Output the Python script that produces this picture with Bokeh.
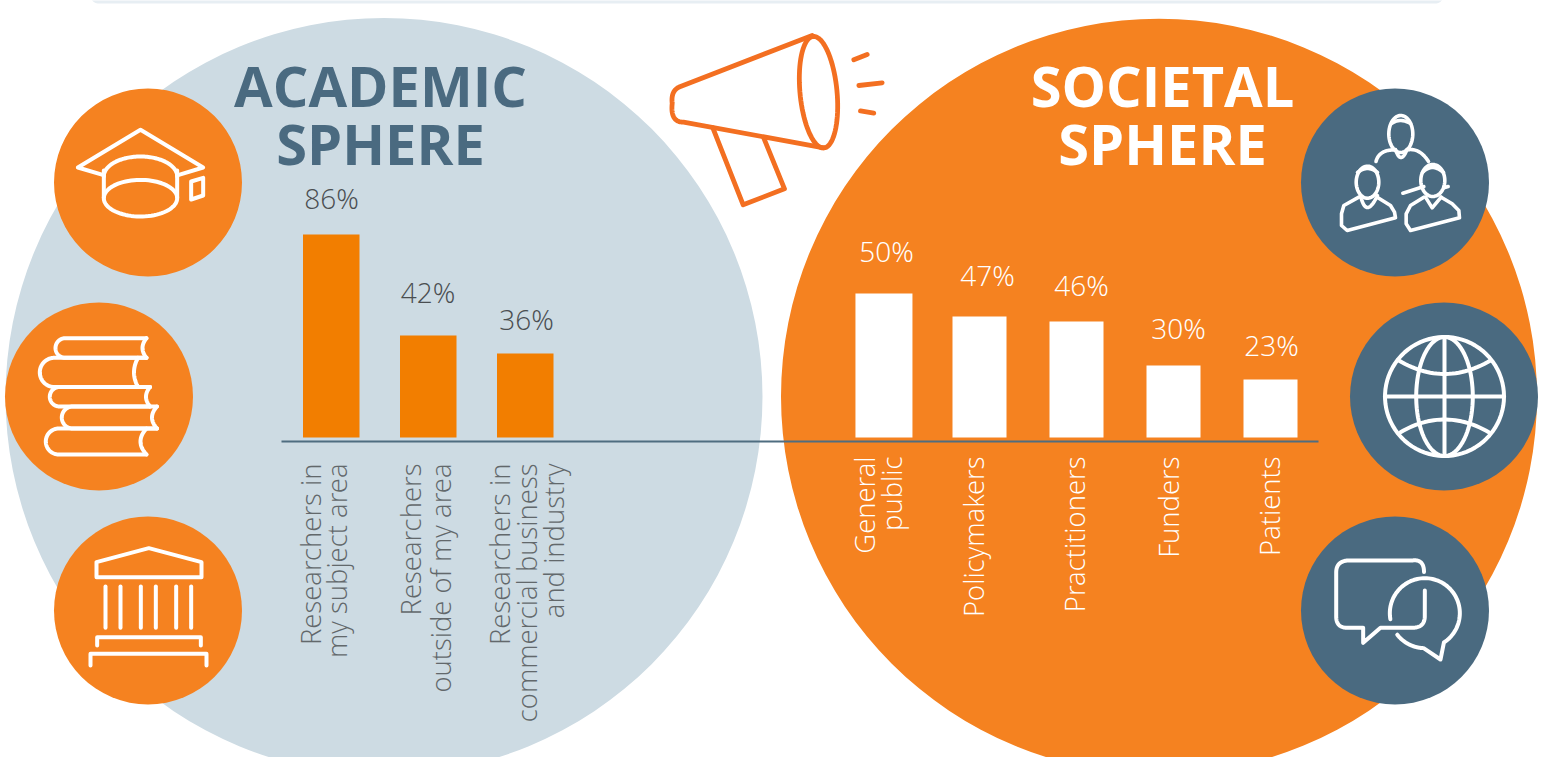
import numpy as np
from bokeh.plotting import figure
from bokeh.models import Range1d
from bokeh.core.properties import value
from bokeh.embed import file_html
from bokeh.resources import INLINE

# ---------- data ----------
academic_labels = [["Researchers in", "my subject area"],
                   ["Researchers", "outside of my area"],
                   ["Researchers in", "commercial business", "and industry"]]
academic_pct = ["86%", "42%", "36%"]
academic_bars = [86, 43.2, 35.6]

societal_labels = [["General", "public"], ["Policymakers"], ["Practitioners"], ["Funders"], ["Patients"]]
societal_pct = ["50%", "47%", "46%", "30%", "23%"]
societal_bars = [61, 51.3, 49.2, 30.5, 24.6]

# ---------- style / layout ----------
W, H = 1541, 757
LIGHT, ORANGE, SLATE = "#CDDBE3", "#F58220", "#4A6A80"
BAR_ORANGE, MEGA, BANNER = "#F27E00", "#F36F21", "#E7EEF3"
BODY = "Open Sans Light"
DARK_TXT = "#4A4E51"
BASE_SHIFT = 0.43  # em: distance the renderer places text below the requested baseline

p = figure(width=W, height=H, x_range=(0, W), y_range=(H, 0), output_backend="svg",
           toolbar_location=None, min_border=0, background_fill_color="white",
           outline_line_color=None, tools="")
p.axis.visible = False
p.grid.visible = False

# bar scales: one unit of index = 97 px, one unit of value = 2.36 px
BASE_Y, UNIT_Y, STEP = 437, 2.36, 97
LEFT0, RIGHT0 = 330.75, 882
p.extra_y_ranges = {"v": Range1d((BASE_Y - H) / UNIT_Y, BASE_Y / UNIT_Y)}
p.extra_x_ranges = {"a": Range1d(-LEFT0 / STEP, (W - LEFT0) / STEP),
                    "s": Range1d(-RIGHT0 / STEP, (W - RIGHT0) / STEP)}


# ---------- icon helpers ----------
def z(ox, oy, pts):
    return [ox + a / 3 for a, b in pts], [oy + b / 3 for a, b in pts]


def ell(cx, cy, rx, ry, a0=0, a1=360, rot=0):
    t = np.radians(np.linspace(a0, a1, 80))
    r = np.radians(rot)
    ex, ey = rx * np.cos(t), ry * np.sin(t)
    return list(cx + ex * np.cos(r) - ey * np.sin(r)), list(cy + ex * np.sin(r) + ey * np.cos(r))


def bez(p0, mid, p1, n=30):
    c = (2 * mid[0] - (p0[0] + p1[0]) / 2, 2 * mid[1] - (p0[1] + p1[1]) / 2)
    t = np.linspace(0, 1, n)
    return (list((1 - t) ** 2 * p0[0] + 2 * t * (1 - t) * c[0] + t ** 2 * p1[0]),
            list((1 - t) ** 2 * p0[1] + 2 * t * (1 - t) * c[1] + t ** 2 * p1[1]))


def stroke(paths, color="white", w=4.0):
    p.multi_line([a for a, b in paths], [b for a, b in paths], line_color=color, line_width=w,
                 line_cap="round", line_join="round")


# ---------- spheres ----------
cl = ell(98, -5, 8, 8, 180, 90)
cr = ell(1435, -5, 8, 8, 90, 0)
p.patch(cl[0] + cr[0], cl[1] + cr[1], fill_color=BANNER, line_color=None)

p.circle([383.5], [396], radius=378.5, fill_color=LIGHT, line_color=None)
p.circle([1158.5], [396], radius=378, fill_color=ORANGE, line_color=None)

p.circle([147.5, 98.5, 147.5], [182, 396, 610], radius=94, fill_color=ORANGE, line_color=None)
p.circle([1394.5, 1443.5, 1394.5], [182, 396, 610], radius=94, fill_color=SLATE, line_color=None)

# graduation cap
O = (0, 70)
stroke([
    z(*O, [(307, 313), (232, 291), (420, 178), (608, 291), (535, 313)]),
    ell(140, 176, 36.7, 20, 180, 360),
    ell(140, 197.7, 36.7, 18.3),
    z(*O, [(310, 300), (310, 380)]),
    z(*O, [(530, 300), (530, 380)]),
    z(*O, [(572, 333), (608, 322), (608, 375), (572, 387), (572, 333)]),
])


# books
def book(xl, xr, yt, yb, dent, xtop=None, xbot=None):
    r = (yb - yt) / 2
    ax, ay = ell(xl + r, (yt + yb) / 2, r, r, 270, 90)
    dx, dy = bez((xr, yt), (xr - dent, (yt + yb) / 2), (xr, yb))
    return [([xtop or xr] + ax + [xbot or xr], [yt] + ay + [yb]), (dx, dy)]


books = []
books += book(55, 146, 337.7, 357.3, 4)
books += book(39.3, 137.5, 357.3, 386.5, 4, xtop=146, xbot=149.5)
books += book(49.3, 149.5, 386.5, 406, 4)
books += book(61.3, 156.5, 406, 428, 5)
books += book(45.3, 146, 428, 454, 6, xtop=156.5)
stroke(books)

# temple
O = (40, 510)
temple = [z(*O, [(168, 155), (325, 113), (483, 155), (483, 200), (168, 200), (168, 155)]),
          z(*O, [(170, 405), (170, 380), (481, 380), (481, 405)]),
          z(*O, [(150, 465), (150, 430), (498, 430), (498, 465)])]
for cx in (195, 240, 301, 346, 407, 452):
    temple.append(z(*O, [(cx, 228), (cx, 352)]))
stroke(temple)

# megaphone
O = (650, 20)
t1 = bez((680, 86), (673, 92), (671.7, 103))
t2 = bez((671.7, 103), (673.5, 117), (683, 121.7))
stroke([
    ell(818, 91.7, 18.5, 56, rot=-5.5),
    ([811.7] + t1[0] + t2[0] + [823.3], [35] + t1[1] + t2[1] + [147.3]),
    z(*O, [(187, 322), (278, 553), (402, 505), (340, 353)]),
    z(*O, [(610, 118), (650, 102)]),
    z(*O, [(625, 195), (695, 187)]),
    z(*O, [(630, 271), (670, 278)]),
], color=MEGA, w=4.8)

# people
O = (1295, 80)
people = [
    ell(1400.3, 133.5, 12, 18.5),
    bez((1391, 123), (1400, 120), (1410, 123)),
    bez((1395, 149), (1400.5, 157), (1406.5, 149)),
    bez((1375.5, 161), (1382, 152), (1395, 149.5)),
    bez((1406.5, 149.5), (1418, 151), (1428, 161)),
    ell(1367, 181.7, 11.3, 16),
    bez((1357, 172), (1367, 168), (1377, 172)),
    z(*O, [(190, 350), (145, 375), (138, 400), (138, 435), (155, 450), (300, 412), (297, 395), (285, 375), (245, 350)]),
    bez((1360, 195), (1367, 207), (1377, 195)),
    ell(1432.3, 180, 12, 16),
    bez((1422, 172), (1432, 167), (1443, 172)),
    z(*O, [(385, 350), (345, 375), (332, 400), (332, 430), (345, 450), (492, 412), (490, 390), (470, 370), (437, 350)]),
    z(*O, [(390, 350), (410, 382), (437, 350)]),
    z(*O, [(322, 338), (385, 318)]),
    z(*O, [(445, 322), (458, 318)]),
]
stroke(people, w=3.6)

# globe
globe = [
    ell(1444, 396, 59.5, 59.5),
    ell(1444, 396, 28.3, 59.5),
    ([1444, 1444], [336.5, 455.5]),
    ([1384.5, 1503.5], [396, 396]),
    bez((1398.3, 360), (1444, 373.5), (1490, 360)),
    bez((1400, 431.7), (1444, 419), (1488.3, 431.7)),
]
stroke(globe)

# speech bubbles
O = (1295, 510)
tl = bez((1335.7, 572), (1338.5, 563.5), (1347, 560))
tr = bez((1411.5, 560), (1420.5, 562), (1423.5, 571.5))
br = bez((1424.3, 616), (1421, 624.5), (1411.5, 627.3))
bl = bez((1347, 627.3), (1338.5, 624.5), (1335.7, 616))
bub1x = z(*O, [(388, 240)])[0] + br[0] + z(*O, [(255, 352), (203, 397), (203, 352)])[0] + bl[0] + tl[0] + tr[0]
bub1y = z(*O, [(388, 240)])[1] + br[1] + z(*O, [(255, 352), (203, 397), (203, 352)])[1] + bl[1] + tl[1] + tr[1]
a1 = ell(1295 + 388 / 3, 510 + 308 / 3, 35, 35, 170, 417)
a2 = ell(1295 + 388 / 3, 510 + 308 / 3, 35, 35, 92, 142)
t3 = z(*O, [(435, 447), (388, 417)])
stroke([(bub1x, bub1y),
        (a1[0] + [t3[0][0]] + [a2[0][0]] + a2[0], a1[1] + [t3[1][0]] + [a2[1][0]] + a2[1])])


# ---------- titles ----------
def title(x, y, s, color):
    p.text([x], [y - BASE_SHIFT * 56], text=[s], text_font=value("Open Sans"), text_font_style="bold",
           text_font_size="56px", text_color=color, text_align="center", text_baseline="alphabetic")


title(380, 108.5, "ACADEMIC", SLATE)
title(380, 166.5, "SPHERE", SLATE)
title(1162, 108.5, "SOCIETAL", "white")
title(1162, 166.5, "SPHERE", "white")

# ---------- bars ----------
p.vbar(x=list(range(len(academic_bars))), bottom=0, top=academic_bars, width=56.5 / STEP,
       fill_color=BAR_ORANGE, line_color=None, x_range_name="a", y_range_name="v")
p.vbar(x=[0.015, 1, 2, 3, 4], bottom=0, top=societal_bars,
       width=[57 / STEP, 54 / STEP, 54 / STEP, 54 / STEP, 54 / STEP],
       fill_color="white", line_color=None, x_range_name="s", y_range_name="v")
p.line([281, 1318], [441, 441], line_color="#4F6D80", line_width=2)

# ---------- percentage labels ----------
PCT_SIZE, LBL_SIZE = 28, 27.5
sh = BASE_SHIFT * PCT_SIZE
p.text([331, 427.5, 526], [210 - sh, 303.5 - sh, 330.5 - sh], text=academic_pct, text_font=value(BODY),
       text_font_size=f"{PCT_SIZE}px", text_color=DARK_TXT, text_align="center", text_baseline="alphabetic")
p.text([886, 987, 1081, 1178, 1271], [263 - sh, 287 - sh, 297 - sh, 340 - sh, 357 - sh], text=societal_pct,
       text_font=value(BODY), text_font_size=f"{PCT_SIZE}px", text_color="white", text_align="center",
       text_baseline="alphabetic")

# ---------- category labels (rotated, baseline on the right) ----------
a_base = [[321.7, 348], [421.7, 451.7], [511, 538.3, 565]]
s_base = [[875.5, 902.7], [985], [1085.5], [1179.5], [1280.5]]
TOP_A, TOP_S = 463, 456
sl = BASE_SHIFT * LBL_SIZE
for lines, bases in zip(academic_labels, a_base):
    p.text([b - sl for b in bases], [TOP_A] * len(lines), text=lines, angle=np.pi / 2, text_font=value(BODY),
           text_font_size=f"{LBL_SIZE}px", text_color="#62686B", text_align="right", text_baseline="alphabetic")
for lines, bases in zip(societal_labels, s_base):
    p.text([b - sl for b in bases], [TOP_S] * len(lines), text=lines, angle=np.pi / 2, text_font=value(BODY),
           text_font_size=f"{LBL_SIZE}px", text_color="white", text_align="right", text_baseline="alphabetic")

open("out.html", "w").write(file_html(p, INLINE))
